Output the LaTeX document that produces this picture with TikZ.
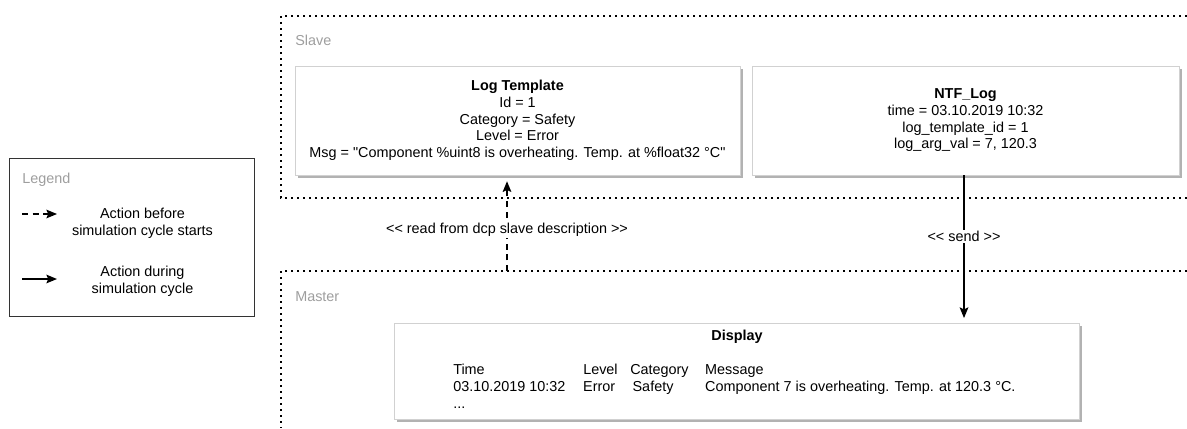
\documentclass[tikz,border=0pt]{standalone}
\usepackage{fontspec}
\newfontfamily\drawfont{Liberation Sans}
\usetikzlibrary{arrows.meta,positioning,shadows}

\begin{document}
\begin{tikzpicture}
		[x=0.75pt,y=-0.75pt,
		every node/.style={font=\drawfont\fontsize{10.8}{12.5}\selectfont},
		region/.style={draw=black,line width=1.5pt,dash pattern=on 1.5pt off 3pt},
		card/.style={draw=black!18,fill=white,align=center,
			drop shadow={shadow xshift=2.2pt,shadow yshift=-2.2pt,fill=black!30,opacity=1}},
		tag/.style={text=black!38,anchor=west,inner sep=0pt},
		flow/.style={line width=1.2pt,-{Stealth[length=8pt,width=6.5pt,inset=1.5pt]}},
		prep/.style={flow,dash pattern=on 4.5pt off 3.5pt}]
		\useasboundingbox (0,0) rectangle (1187,428);
		
		% regions
		\draw[region] (1187,16) -- (281,16) -- (281,198) -- (1187,198);
		\draw[region] (1187,271) -- (281,271) -- (281,428);
		\node[tag] (slave) at (295,40) {Slave};
		\node[tag] (master) at (295,297) {Master};
		
		\node[card,minimum width=333.75pt,minimum height=81.75pt] (logtpl) at (517.5,120.5)
		{\textbf{Log Template}\\Id = 1\\Category = Safety\\Level = Error\\Msg = "Component \%uint8 is overheating. Temp. at \%float32 °C"};
		\node[card,minimum width=320.25pt,minimum height=81.75pt] (ntflog) at (965.5,120.5)
		{\textbf{NTF\_Log}\\time = 03.10.2019 10:32\\log\_template\_id = 1\\log\_arg\_val = 7, 120.3};
		\node[card,minimum width=513.75pt,minimum height=72pt] (display) at (736.5,371) {};
		\node (disptitle) at (737,337) {\textbf{Display}};
		\node[anchor=north west,inner sep=0pt] (disptab) at (453,362)
		{\fontsize{10.8}{12.75}\selectfont
			\begin{tabular}{@{}p{97.5pt}@{}p{35.25pt}@{}p{56.25pt}@{}l@{}}
				Time & Level & Category & Message\\
				03.10.2019 10:32 & Error & \,Safety & Component 7 is overheating. Temp. at 120.3 °C.\\
				... & & & \\
		\end{tabular}};
		
		\coordinate (readsrc) at (507,271);
		\draw[prep,shorten >=4.5pt] (readsrc) -- node[pos=0.43,fill=white,inner sep=1pt] {<< read from dcp slave description >>} (readsrc |- logtpl.south);
		\draw[flow,shorten >=3.5pt] (ntflog.south -| 964,0) -- node[pos=0.415,fill=white,inner sep=1pt] {<< send >>} (display.north -| 964,0);
		
		% legend
		\node[draw=black!80,minimum width=183.75pt,minimum height=118.5pt] (legend) at (131.5,237) {};
		\node[tag] (legendtag) at (22,180) {Legend};
		\coordinate (bfrom) at (22,214);
		\coordinate (bto) at (57,214);
		\coordinate (dfrom) at (22,279);
		\coordinate (dto) at (57,279);
		\draw[prep] (bfrom) -- (bto);
		\draw[flow] (dfrom) -- (dto);
		\node[align=center] (beforetxt) at (142.5,223.5) {Action before\\simulation cycle starts};
		\node[align=center] (duringtxt) at (142.5,281.5) {Action during\\simulation cycle};
\end{tikzpicture}
\end{document}
